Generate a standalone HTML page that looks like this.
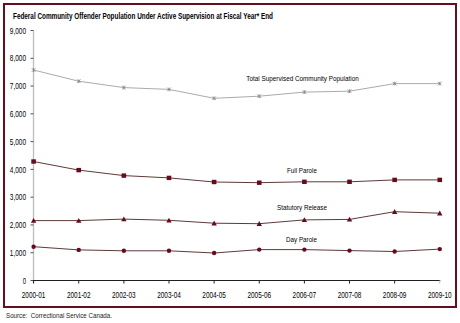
<!DOCTYPE html>
<html><head><meta charset="utf-8"><style>
html,body{margin:0;padding:0;background:#fff;width:460px;height:323px;overflow:hidden}
svg{display:block}
</style></head><body>
<svg width="460" height="323" viewBox="0 0 460 323">
<rect x="4" y="4" width="452" height="303" fill="none" stroke="#620f20" stroke-width="2"/>
<text x="13" y="18.6" font-family="Liberation Sans, sans-serif" font-size="8.6" font-weight="bold" fill="#000" textLength="260" lengthAdjust="spacingAndGlyphs">Federal Community Offender Population Under Active Supervision at Fiscal Year* End</text>
<line x1="33.5" y1="30.5" x2="33.5" y2="283" stroke="#bdbdbd" stroke-width="1.3"/>
<line x1="30.5" y1="30.5" x2="33.5" y2="30.5" stroke="#505050" stroke-width="1"/>
<text x="9.8" y="33.7" font-family="Liberation Sans, sans-serif" font-size="8.3" fill="#000"  textLength="16.2" lengthAdjust="spacingAndGlyphs">9,000</text>
<line x1="30.5" y1="58.27777777777778" x2="33.5" y2="58.27777777777778" stroke="#505050" stroke-width="1"/>
<text x="9.8" y="61.47777777777778" font-family="Liberation Sans, sans-serif" font-size="8.3" fill="#000"  textLength="16.2" lengthAdjust="spacingAndGlyphs">8,000</text>
<line x1="30.5" y1="86.05555555555556" x2="33.5" y2="86.05555555555556" stroke="#505050" stroke-width="1"/>
<text x="9.8" y="89.25555555555556" font-family="Liberation Sans, sans-serif" font-size="8.3" fill="#000"  textLength="16.2" lengthAdjust="spacingAndGlyphs">7,000</text>
<line x1="30.5" y1="113.83333333333333" x2="33.5" y2="113.83333333333333" stroke="#505050" stroke-width="1"/>
<text x="9.8" y="117.03333333333333" font-family="Liberation Sans, sans-serif" font-size="8.3" fill="#000"  textLength="16.2" lengthAdjust="spacingAndGlyphs">6,000</text>
<line x1="30.5" y1="141.61111111111111" x2="33.5" y2="141.61111111111111" stroke="#505050" stroke-width="1"/>
<text x="9.8" y="144.8111111111111" font-family="Liberation Sans, sans-serif" font-size="8.3" fill="#000"  textLength="16.2" lengthAdjust="spacingAndGlyphs">5,000</text>
<line x1="30.5" y1="169.38888888888889" x2="33.5" y2="169.38888888888889" stroke="#505050" stroke-width="1"/>
<text x="9.8" y="172.58888888888887" font-family="Liberation Sans, sans-serif" font-size="8.3" fill="#000"  textLength="16.2" lengthAdjust="spacingAndGlyphs">4,000</text>
<line x1="30.5" y1="197.16666666666666" x2="33.5" y2="197.16666666666666" stroke="#505050" stroke-width="1"/>
<text x="9.8" y="200.36666666666665" font-family="Liberation Sans, sans-serif" font-size="8.3" fill="#000"  textLength="16.2" lengthAdjust="spacingAndGlyphs">3,000</text>
<line x1="30.5" y1="224.94444444444446" x2="33.5" y2="224.94444444444446" stroke="#505050" stroke-width="1"/>
<text x="9.8" y="228.14444444444445" font-family="Liberation Sans, sans-serif" font-size="8.3" fill="#000"  textLength="16.2" lengthAdjust="spacingAndGlyphs">2,000</text>
<line x1="30.5" y1="252.72222222222223" x2="33.5" y2="252.72222222222223" stroke="#505050" stroke-width="1"/>
<text x="9.8" y="255.92222222222222" font-family="Liberation Sans, sans-serif" font-size="8.3" fill="#000"  textLength="16.2" lengthAdjust="spacingAndGlyphs">1,000</text>
<line x1="30.5" y1="280.5" x2="33.5" y2="280.5" stroke="#505050" stroke-width="1"/>
<text x="22.7" y="283.7" font-family="Liberation Sans, sans-serif" font-size="8.3" fill="#000"  textLength="3.3" lengthAdjust="spacingAndGlyphs">0</text>
<line x1="33" y1="280.5" x2="440.27000000000004" y2="280.5" stroke="#202020" stroke-width="1"/>
<line x1="33.6" y1="280.5" x2="33.6" y2="283.5" stroke="#202020" stroke-width="1"/>
<text x="21.8" y="297.9" font-family="Liberation Sans, sans-serif" font-size="8.4" fill="#000"  textLength="23.6" lengthAdjust="spacingAndGlyphs">2000-01</text>
<line x1="78.73" y1="280.5" x2="78.73" y2="283.5" stroke="#202020" stroke-width="1"/>
<text x="66.93" y="297.9" font-family="Liberation Sans, sans-serif" font-size="8.4" fill="#000"  textLength="23.6" lengthAdjust="spacingAndGlyphs">2001-02</text>
<line x1="123.86000000000001" y1="280.5" x2="123.86000000000001" y2="283.5" stroke="#202020" stroke-width="1"/>
<text x="112.06000000000002" y="297.9" font-family="Liberation Sans, sans-serif" font-size="8.4" fill="#000"  textLength="23.6" lengthAdjust="spacingAndGlyphs">2002-03</text>
<line x1="168.99" y1="280.5" x2="168.99" y2="283.5" stroke="#202020" stroke-width="1"/>
<text x="157.19" y="297.9" font-family="Liberation Sans, sans-serif" font-size="8.4" fill="#000"  textLength="23.6" lengthAdjust="spacingAndGlyphs">2003-04</text>
<line x1="214.12" y1="280.5" x2="214.12" y2="283.5" stroke="#202020" stroke-width="1"/>
<text x="202.32" y="297.9" font-family="Liberation Sans, sans-serif" font-size="8.4" fill="#000"  textLength="23.6" lengthAdjust="spacingAndGlyphs">2004-05</text>
<line x1="259.25" y1="280.5" x2="259.25" y2="283.5" stroke="#202020" stroke-width="1"/>
<text x="247.45" y="297.9" font-family="Liberation Sans, sans-serif" font-size="8.4" fill="#000"  textLength="23.6" lengthAdjust="spacingAndGlyphs">2005-06</text>
<line x1="304.38000000000005" y1="280.5" x2="304.38000000000005" y2="283.5" stroke="#202020" stroke-width="1"/>
<text x="292.58000000000004" y="297.9" font-family="Liberation Sans, sans-serif" font-size="8.4" fill="#000"  textLength="23.6" lengthAdjust="spacingAndGlyphs">2006-07</text>
<line x1="349.51000000000005" y1="280.5" x2="349.51000000000005" y2="283.5" stroke="#202020" stroke-width="1"/>
<text x="337.71000000000004" y="297.9" font-family="Liberation Sans, sans-serif" font-size="8.4" fill="#000"  textLength="23.6" lengthAdjust="spacingAndGlyphs">2007-08</text>
<line x1="394.64000000000004" y1="280.5" x2="394.64000000000004" y2="283.5" stroke="#202020" stroke-width="1"/>
<text x="382.84000000000003" y="297.9" font-family="Liberation Sans, sans-serif" font-size="8.4" fill="#000"  textLength="23.6" lengthAdjust="spacingAndGlyphs">2008-09</text>
<line x1="439.77000000000004" y1="280.5" x2="439.77000000000004" y2="283.5" stroke="#c0c0c0" stroke-width="1"/>
<text x="427.97" y="297.9" font-family="Liberation Sans, sans-serif" font-size="8.4" fill="#000"  textLength="23.6" lengthAdjust="spacingAndGlyphs">2009-10</text>
<polyline points="33.6,70.0 78.7,81.2 123.9,87.6 169.0,89.4 214.1,98.3 259.2,96.2 304.4,92.1 349.5,91.2 394.6,83.6 439.8,83.6" fill="none" stroke="#a0a0a0" stroke-width="0.9"/>
<path d="M31.8,68.2L35.4,71.8M31.8,71.8L35.4,68.2M33.6,68.2L33.6,71.8" stroke="#808080" stroke-width="0.8"/>
<path d="M76.93,79.4L80.53,83.0M76.93,83.0L80.53,79.4M78.73,79.4L78.73,83.0" stroke="#808080" stroke-width="0.8"/>
<path d="M122.06000000000002,85.8L125.66000000000001,89.39999999999999M122.06000000000002,89.39999999999999L125.66000000000001,85.8M123.86000000000001,85.8L123.86000000000001,89.39999999999999" stroke="#808080" stroke-width="0.8"/>
<path d="M167.19,87.60000000000001L170.79000000000002,91.2M167.19,91.2L170.79000000000002,87.60000000000001M168.99,87.60000000000001L168.99,91.2" stroke="#808080" stroke-width="0.8"/>
<path d="M212.32,96.5L215.92000000000002,100.1M212.32,100.1L215.92000000000002,96.5M214.12,96.5L214.12,100.1" stroke="#808080" stroke-width="0.8"/>
<path d="M257.45,94.4L261.05,98.0M257.45,98.0L261.05,94.4M259.25,94.4L259.25,98.0" stroke="#808080" stroke-width="0.8"/>
<path d="M302.58000000000004,90.3L306.18000000000006,93.89999999999999M302.58000000000004,93.89999999999999L306.18000000000006,90.3M304.38000000000005,90.3L304.38000000000005,93.89999999999999" stroke="#808080" stroke-width="0.8"/>
<path d="M347.71000000000004,89.4L351.31000000000006,93.0M347.71000000000004,93.0L351.31000000000006,89.4M349.51000000000005,89.4L349.51000000000005,93.0" stroke="#808080" stroke-width="0.8"/>
<path d="M392.84000000000003,81.8L396.44000000000005,85.39999999999999M392.84000000000003,85.39999999999999L396.44000000000005,81.8M394.64000000000004,81.8L394.64000000000004,85.39999999999999" stroke="#808080" stroke-width="0.8"/>
<path d="M437.97,81.8L441.57000000000005,85.39999999999999M437.97,85.39999999999999L441.57000000000005,81.8M439.77000000000004,81.8L439.77000000000004,85.39999999999999" stroke="#808080" stroke-width="0.8"/>
<polyline points="33.6,161.5 78.7,170.1 123.9,175.6 169.0,177.9 214.1,182.0 259.2,182.7 304.4,181.8 349.5,181.8 394.6,179.9 439.8,179.9" fill="none" stroke="#4a2424" stroke-width="0.9"/>
<rect x="31.3" y="159.3" width="4.6" height="4.4" fill="#660b1b"/>
<rect x="76.43" y="167.9" width="4.6" height="4.4" fill="#660b1b"/>
<rect x="121.56000000000002" y="173.4" width="4.6" height="4.4" fill="#660b1b"/>
<rect x="166.69" y="175.70000000000002" width="4.6" height="4.4" fill="#660b1b"/>
<rect x="211.82" y="179.8" width="4.6" height="4.4" fill="#660b1b"/>
<rect x="256.95" y="180.5" width="4.6" height="4.4" fill="#660b1b"/>
<rect x="302.08000000000004" y="179.60000000000002" width="4.6" height="4.4" fill="#660b1b"/>
<rect x="347.21000000000004" y="179.60000000000002" width="4.6" height="4.4" fill="#660b1b"/>
<rect x="392.34000000000003" y="177.70000000000002" width="4.6" height="4.4" fill="#660b1b"/>
<rect x="437.47" y="177.70000000000002" width="4.6" height="4.4" fill="#660b1b"/>
<polyline points="33.6,220.6 78.7,220.6 123.9,219.1 169.0,220.3 214.1,223.2 259.2,223.7 304.4,219.9 349.5,219.4 394.6,211.7 439.8,213.2" fill="none" stroke="#4a2424" stroke-width="0.9"/>
<path d="M33.6,218.0L36.300000000000004,222.79999999999998L30.900000000000002,222.79999999999998Z" fill="#660b1b"/>
<path d="M78.73,218.0L81.43,222.79999999999998L76.03,222.79999999999998Z" fill="#660b1b"/>
<path d="M123.86000000000001,216.5L126.56000000000002,221.29999999999998L121.16000000000001,221.29999999999998Z" fill="#660b1b"/>
<path d="M168.99,217.70000000000002L171.69,222.5L166.29000000000002,222.5Z" fill="#660b1b"/>
<path d="M214.12,220.6L216.82,225.39999999999998L211.42000000000002,225.39999999999998Z" fill="#660b1b"/>
<path d="M259.25,221.1L261.95,225.89999999999998L256.55,225.89999999999998Z" fill="#660b1b"/>
<path d="M304.38000000000005,217.3L307.08000000000004,222.1L301.68000000000006,222.1Z" fill="#660b1b"/>
<path d="M349.51000000000005,216.8L352.21000000000004,221.6L346.81000000000006,221.6Z" fill="#660b1b"/>
<path d="M394.64000000000004,209.1L397.34000000000003,213.89999999999998L391.94000000000005,213.89999999999998Z" fill="#660b1b"/>
<path d="M439.77000000000004,210.6L442.47,215.39999999999998L437.07000000000005,215.39999999999998Z" fill="#660b1b"/>
<polyline points="33.6,246.7 78.7,249.9 123.9,250.8 169.0,250.8 214.1,253.0 259.2,249.6 304.4,249.6 349.5,250.6 394.6,251.5 439.8,249.1" fill="none" stroke="#4a2424" stroke-width="0.9"/>
<circle cx="33.6" cy="246.7" r="2.2" fill="#660b1b"/>
<circle cx="78.73" cy="249.9" r="2.2" fill="#660b1b"/>
<circle cx="123.86000000000001" cy="250.8" r="2.2" fill="#660b1b"/>
<circle cx="168.99" cy="250.8" r="2.2" fill="#660b1b"/>
<circle cx="214.12" cy="253" r="2.2" fill="#660b1b"/>
<circle cx="259.25" cy="249.6" r="2.2" fill="#660b1b"/>
<circle cx="304.38000000000005" cy="249.6" r="2.2" fill="#660b1b"/>
<circle cx="349.51000000000005" cy="250.6" r="2.2" fill="#660b1b"/>
<circle cx="394.64000000000004" cy="251.5" r="2.2" fill="#660b1b"/>
<circle cx="439.77000000000004" cy="249.1" r="2.2" fill="#660b1b"/>
<text x="246.3" y="81.1" font-family="Liberation Sans, sans-serif" font-size="7.2" fill="#000"  textLength="112.5" lengthAdjust="spacingAndGlyphs">Total Supervised Community Population</text>
<text x="287" y="173.3" font-family="Liberation Sans, sans-serif" font-size="7.2" fill="#000"  textLength="30" lengthAdjust="spacingAndGlyphs">Full Parole</text>
<text x="277" y="209.5" font-family="Liberation Sans, sans-serif" font-size="7.2" fill="#000"  textLength="50" lengthAdjust="spacingAndGlyphs">Statutory Release</text>
<text x="286" y="241.9" font-family="Liberation Sans, sans-serif" font-size="7.2" fill="#000"  textLength="31" lengthAdjust="spacingAndGlyphs">Day Parole</text>
<text x="6" y="317.6" font-family="Liberation Sans, sans-serif" font-size="7" fill="#222" textLength="106" lengthAdjust="spacingAndGlyphs" xml:space="preserve">Source:  Correctional Service Canada.</text>
</svg>
</body></html>
